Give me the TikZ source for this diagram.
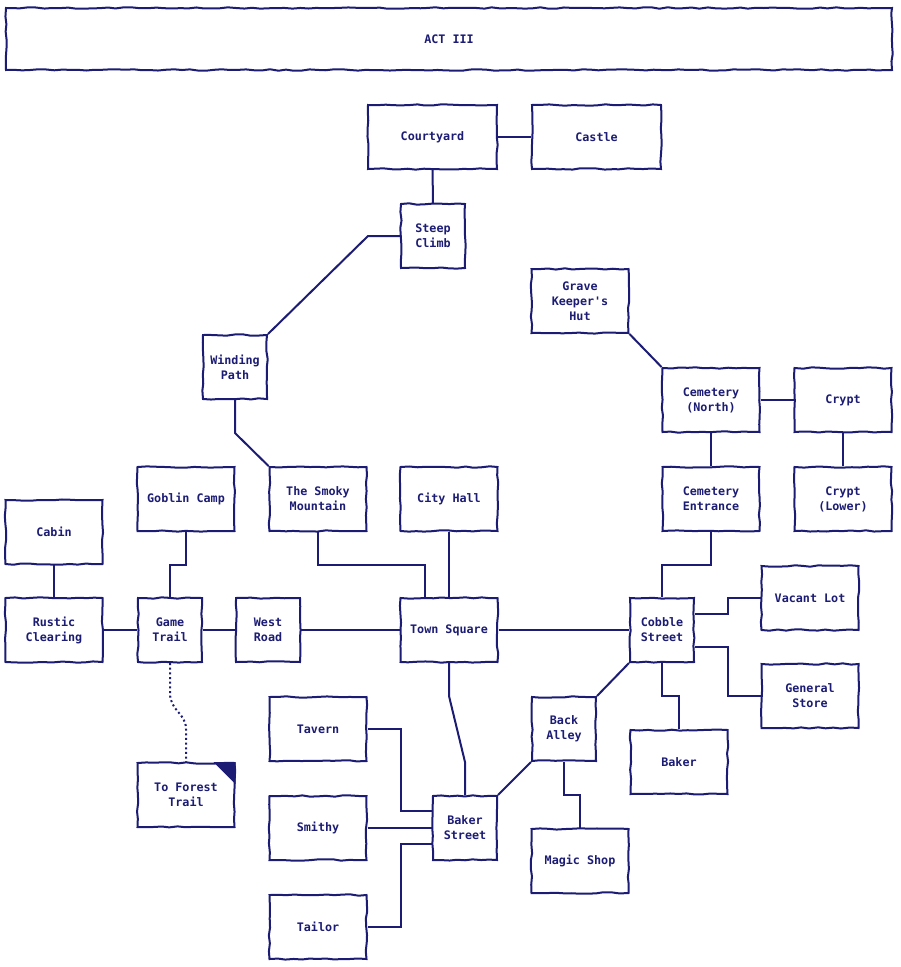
\documentclass[tikz,border=0pt]{standalone}
\usepackage{fontspec}
\setmonofont{DejaVu Sans Mono}
\usetikzlibrary{calc,decorations.pathmorphing}
\definecolor{ink}{HTML}{1C1C74}
\pgfmathsetseed{7}

\begin{document}
\begin{tikzpicture}[
            x=0.75pt, y=-0.75pt,
            font=\fontsize{8.8}{11.25}\selectfont\ttfamily\bfseries,
        % rough hand-drawn boxes for the places
            room/.style={draw=ink, text=ink, line width=1.5pt, fill=white,
            align=center, inner sep=0pt, minimum height=48pt,
            decorate, decoration={random steps, segment length=6pt, amplitude=0.55pt}},
            small/.style={minimum width=48pt},
            mid/.style={minimum width=72.75pt},
            big/.style={minimum width=96.75pt},
            banner/.style={room, minimum width=664.5pt, minimum height=46.5pt},
            link/.style={draw=ink, line width=1.5pt},
            trail/.style={link, dotted}
        ]
            \useasboundingbox (0,0) rectangle (900,967);

% --- title ---
            \node[banner] (act) at (449,39) {ACT III};

% --- castle and the climb ---
            \node[room, big] (courtyard) at (432.5,137) {Courtyard};
            \node[room, big] (castle) at (596.5,137) {Castle};
            \node[room, small] (steep) at (433,236) {Steep\\Climb};
            \node[room, small] (winding) at (235,367) {Winding\\Path};

% --- cemetery ---
            \node[room, mid] (grave) at (580,301) {Grave\\Keeper's\\Hut};
            \node[room, mid] (cemnorth) at (711,400) {Cemetery\\(North)};
            \node[room, mid] (crypt) at (843,400) {Crypt};
            \node[room, mid] (cement) at (711,499) {Cemetery\\Entrance};
            \node[room, mid] (cryptlow) at (843,499) {Crypt\\(Lower)};

% --- west side ---
            \node[room, mid] (goblin) at (186,499) {Goblin Camp};
            \node[room, mid] (smoky) at (318,499) {The Smoky\\Mountain};
            \node[room, mid] (cabin) at (54,532) {Cabin};
            \node[room, mid] (rustic) at (54,630) {Rustic\\Clearing};
            \node[room, small] (gametrail) at (170,630) {Game\\Trail};
            \node[room, small] (westroad) at (268,630) {West\\Road};
            \node[room, mid] (forest) at (186,795) {To Forest\\Trail};

% --- town ---
            \node[room, mid] (cityhall) at (449,499) {City Hall};
            \node[room, mid] (townsq) at (449,630) {Town Square};
            \node[room, small] (cobble) at (662,630) {Cobble\\Street};
            \node[room, mid] (vacant) at (810,598) {Vacant Lot};
            \node[room, mid] (general) at (810,696) {General\\Store};
            \node[room, mid] (baker) at (679,762) {Baker};
            \node[room, small] (backalley) at (564,729) {Back\\Alley};
            \node[room, mid] (magic) at (580,861) {Magic Shop};
            \node[room, small] (bakerst) at (465,828) {Baker\\Street};
            \node[room, mid] (tavern) at (318,729) {Tavern};
            \node[room, mid] (smithy) at (318,828) {Smithy};
            \node[room, mid] (tailor) at (318,927) {Tailor};

% --- exit marker ---
            \fill[ink] (forest.north east) -- ++(-22,0) -- ++(22,22) -- cycle;

% --- connections ---
            \draw[link] (courtyard) -- (castle);
            \draw[link] (courtyard) -- (steep);
            \draw[link] (steep.west) -- ++(-32,0) -- (winding.north east);
            \draw[link] (winding.south) -- ++(0,33) -- (smoky.north west);
            \draw[link] (grave.south east) -- (cemnorth.north west);
            \draw[link] (cemnorth) -- (crypt);
            \draw[link] (cemnorth) -- (cement);
            \draw[link] (crypt) -- (cryptlow);
            \draw[link] (cement.south) -- ++(0,33) -| (cobble.north);
            \draw[link] (cabin) -- (rustic);
            \draw[link] (rustic) -- (gametrail);
            \draw[link] (goblin.south) -- ++(0,33) -| (gametrail.north);
            \draw[link] (gametrail) -- (westroad);
            \draw[link] (westroad) -- (townsq);
            \draw[link] (smoky.south) -- ++(0,33) -| ($(townsq.north)+(-24,0)$);
            \draw[link] (cityhall) -- (townsq);
            \draw[link] (townsq) -- (cobble);
            \draw[link] ($(cobble.east)+(0,-16)$) -- ++(33,0) |- (vacant.west);
            \draw[link] ($(cobble.east)+(0,17)$) -- ++(33,0) |- (general.west);
            \draw[link] (cobble.south) -- ++(0,33) -| (baker.north);
            \draw[link] (cobble.south west) -- (backalley.north east);
            \draw[link] (backalley.south) -- ++(0,33) -| (magic.north);
            \draw[link] (backalley.south west) -- (bakerst.north east);
            \draw[link] (townsq.south) -- ++(0,33) -- ($(bakerst.north)+(0,-33)$) -- (bakerst.north);
            \draw[link] (tavern.east) -- ++(33,0) |- ($(bakerst.west)+(0,-17)$);
            \draw[link] (smithy) -- (bakerst);
            \draw[link] (tailor.east) -- ++(33,0) |- ($(bakerst.west)+(0,16)$);
            \draw[trail] (gametrail.south) -- ++(0,30) .. controls +(0,18) and +(0,-16) .. ($(forest.north)+(0,-33)$) -- (forest.north);
        \end{tikzpicture}
\end{document}
